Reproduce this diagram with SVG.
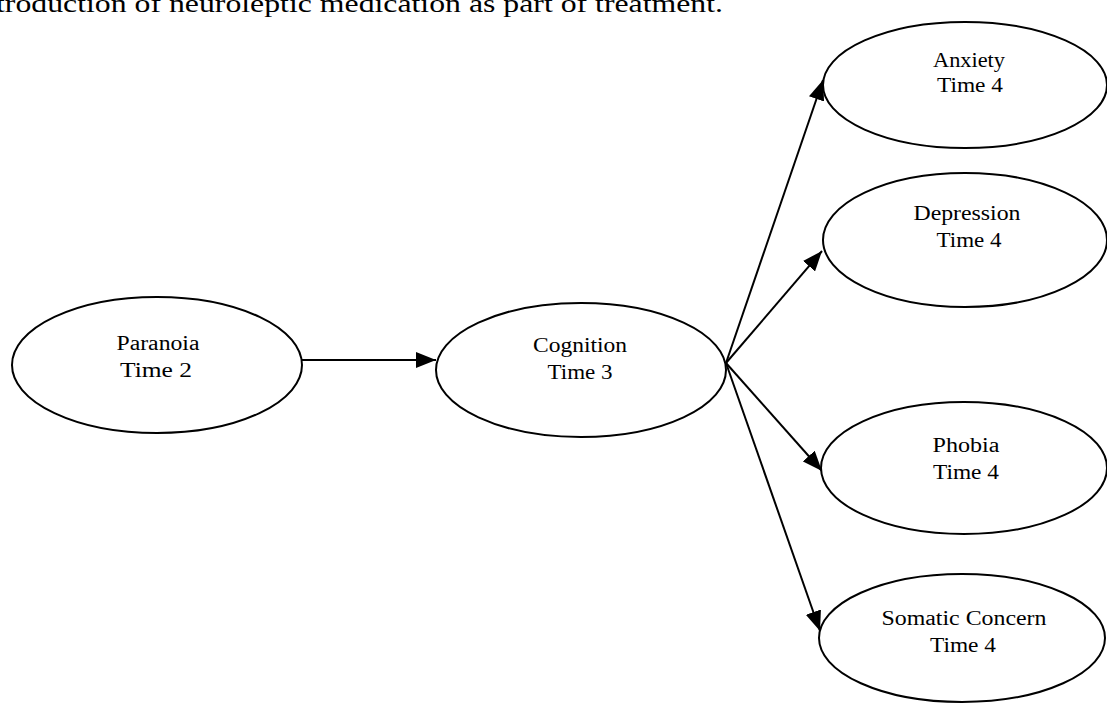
<svg xmlns="http://www.w3.org/2000/svg" width="1107" height="705" viewBox="0 0 1107 705">
<style>
.node ellipse{fill:#fff;stroke:#000;stroke-width:2}
.node text{font-family:"Liberation Serif","Times New Roman",serif;font-size:20px;fill:#000;text-anchor:middle}
.edge{stroke:#000;stroke-width:2;fill:none;marker-end:url(#ah)}
.cap{font-family:"Liberation Serif","Times New Roman",serif;font-size:25px;fill:#000}
</style>
<defs>
<marker id="ah" markerUnits="userSpaceOnUse" markerWidth="22" markerHeight="16" refX="20" refY="8" orient="auto">
<path d="M0,0 L20,8 L0,16 Z" fill="#000"/>
</marker>
</defs>
<rect width="1107" height="705" fill="#fff"/>
<text class="cap" x="-4" y="12" textLength="727" lengthAdjust="spacingAndGlyphs">troduction of neuroleptic medication as part of treatment.</text>
<g id="connectors">
<line class="edge" x1="302" y1="360" x2="436" y2="360"/>
<line class="edge" x1="726" y1="363" x2="823" y2="80"/>
<line class="edge" x1="726" y1="363" x2="822" y2="251"/>
<line class="edge" x1="726" y1="363" x2="822" y2="471"/>
<line class="edge" x1="726" y1="363" x2="820" y2="631"/>
</g>
<g id="paranoia" class="node">
<ellipse cx="157" cy="365" rx="145" ry="68"/>
<text x="158" y="350" textLength="83" lengthAdjust="spacingAndGlyphs">Paranoia</text>
<text x="156" y="377" textLength="72" lengthAdjust="spacingAndGlyphs">Time 2</text>
</g>
<g id="cognition" class="node">
<ellipse cx="581" cy="370" rx="145" ry="67"/>
<text x="580" y="352" textLength="94" lengthAdjust="spacingAndGlyphs">Cognition</text>
<text x="580" y="379" textLength="65" lengthAdjust="spacingAndGlyphs">Time 3</text>
</g>
<g id="anxiety" class="node">
<ellipse cx="965" cy="85" rx="142" ry="63"/>
<text x="969" y="67" textLength="72" lengthAdjust="spacingAndGlyphs">Anxiety</text>
<text x="970" y="92" textLength="66" lengthAdjust="spacingAndGlyphs">Time 4</text>
</g>
<g id="depression" class="node">
<ellipse cx="965" cy="240" rx="142" ry="67"/>
<text x="967" y="220" textLength="107" lengthAdjust="spacingAndGlyphs">Depression</text>
<text x="969" y="247" textLength="65" lengthAdjust="spacingAndGlyphs">Time 4</text>
</g>
<g id="phobia" class="node">
<ellipse cx="964" cy="468" rx="143" ry="66"/>
<text x="966" y="452" textLength="67" lengthAdjust="spacingAndGlyphs">Phobia</text>
<text x="966" y="479" textLength="66" lengthAdjust="spacingAndGlyphs">Time 4</text>
</g>
<g id="somatic" class="node">
<ellipse cx="962" cy="638" rx="143" ry="64"/>
<text x="964" y="625" textLength="165" lengthAdjust="spacingAndGlyphs">Somatic Concern</text>
<text x="963" y="652" textLength="66" lengthAdjust="spacingAndGlyphs">Time 4</text>
</g>
</svg>
